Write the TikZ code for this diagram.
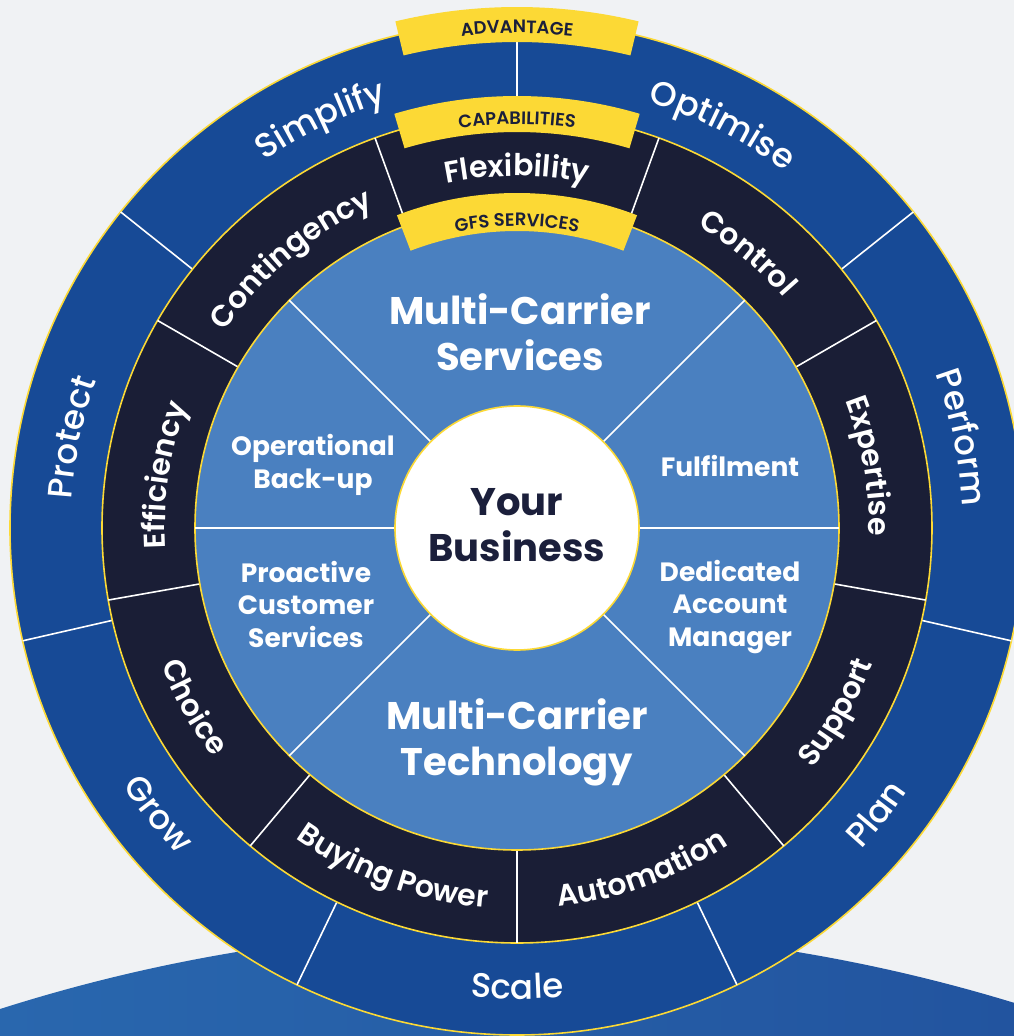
\documentclass[tikz,border=0pt]{standalone}
\usepackage{fontspec}
\setmainfont{Poppins}
\newfontfamily\popmed{Poppins Medium}
\newfontfamily\popsemi{Poppins SemiBold}
\newfontfamily\popbold{Poppins Bold}
\usetikzlibrary{decorations.text}
\definecolor{bgc}{HTML}{F0F2F4}
\definecolor{outerblue}{HTML}{174A96}
\definecolor{navyring}{HTML}{1A1E36}
\definecolor{midblue}{HTML}{4A80C0}
\definecolor{blobL}{HTML}{2967AE}
\definecolor{blobR}{HTML}{22549F}
\definecolor{ylw}{HTML}{FCD935}
\definecolor{txtnavy}{HTML}{1B1F3B}
\newcommand\cwtext[4]{%
  \path[decorate,decoration={text along path,text align=center,text={|#3|#4}}]
    (#1+40:#2pt) arc[start angle=#1+40,end angle=#1-40,radius=#2pt];}
\newcommand\ccwtext[4]{%
  \path[decorate,decoration={text along path,text align=center,text={|#3|#4}}]
    (#1-40:#2pt) arc[start angle=#1-40,end angle=#1+40,radius=#2pt];}
\newcommand\tabband[3]{%
  \fill[ylw] (90+#3:#2pt) arc[start angle=90+#3,end angle=90-#3,radius=#2pt]
    -- (90-#3:#1pt) arc[start angle=90-#3,end angle=90+#3,radius=#1pt] -- cycle;}
\newcommand\fouter{\popmed\fontsize{34pt}{34pt}\selectfont\color{white}}
\newcommand\fnavy{\popsemi\fontsize{30pt}{30pt}\selectfont\color{white}}
\newcommand\ftab{\popsemi\fontsize{18pt}{18pt}\selectfont\color{txtnavy}}
\tikzset{
  divider/.style={white,line width=1.6pt},
  ringedge/.style={draw=ylw,line width=1.6pt},
  bigtxt/.style={text=white,align=center,inner sep=0pt,font=\popbold\fontsize{38.5pt}{46pt}\selectfont},
  smalltxt/.style={text=white,align=center,inner sep=0pt,font=\popbold\fontsize{26.5pt}{32.5pt}\selectfont},
  centertxt/.style={text=txtnavy,align=center,inner sep=0pt,font=\popbold\fontsize{38.5pt}{46pt}\selectfont}
}
\begin{document}
\begin{tikzpicture}[x=1pt,y=1pt]
\useasboundingbox (-517,-508) rectangle (497,528);
\begin{scope}
\clip (-517,-508) rectangle (497,528);
\fill[bgc] (-517,-508) rectangle (497,528);
% bottom blob
\begin{scope}
\clip (0,-2101) circle[radius=1700pt];
\shade[left color=blobL,right color=blobR] (-517,-508) rectangle (497,-380);
\end{scope}
% outer ring
\fill[outerblue,ringedge] (0,0) circle[radius=507pt];
\foreach \a in {90,38.5714,-12.8571,-64.2857,-115.7143,-167.1429,141.4286}
  \draw[divider] (\a:415pt) -- (\a:507pt);
% navy ring
\fill[navyring,ringedge] (0,0) circle[radius=415pt];
\foreach \a in {110,70,30,-10,-50,-90,-130,-170,150}
  \draw[divider] (\a:322pt) -- (\a:415pt);
% medium ring
\fill[midblue,ringedge] (0,0) circle[radius=322pt];
\foreach \a in {0,45,135,180,225,315}
  \draw[divider] (\a:122pt) -- (\a:322pt);
% centre
\fill[white,ringedge] (0,0) circle[radius=122pt];
% tabs
\tabband{486}{521}{13.5}
\tabband{396}{432}{16.5}
\tabband{297}{335}{21}
\cwtext{90}{495}{\ftab}{ADVANTAGE}
\cwtext{90}{404}{\ftab}{CAPABILITIES}
\cwtext{90}{302}{\ftab}{GFS SERVICES}
% outer texts
\cwtext{115.7143}{446}{\fouter}{Simplify}
\cwtext{63}{446}{\fouter}{Optimise}
\cwtext{11.5}{446}{\fouter}{Perform}
\cwtext{168.5}{446}{\fouter}{Protect}
\ccwtext{-38.5714}{471}{\fouter}{Plan}
\ccwtext{-90}{471}{\fouter}{Scale}
\ccwtext{-141.4286}{471}{\fouter}{Grow}
% navy texts
\cwtext{90}{352}{\fnavy}{Flexibility}
\cwtext{50}{352}{\fnavy}{Control}
\cwtext{10}{352}{\fnavy}{Expertise}
\cwtext{171.5}{352}{\fnavy}{Efficiency}
\cwtext{130}{352}{\fnavy}{Contingency}
\ccwtext{-30}{381}{\fnavy}{Support}
\ccwtext{-70}{381}{\fnavy}{Automation}
\ccwtext{-110}{381}{\fnavy}{Buying Power}
\ccwtext{-151}{381}{\fnavy}{Choice}
% inner texts
\node[bigtxt] (ms) at (3,196) {Multi-Carrier\\Services};
\node[bigtxt] (mt) at (0,-214) {Multi-Carrier\\Technology};
\node[smalltxt] (ob) at (-204,63) {Operational\\Back-up};
\node[smalltxt] (fu) at (213,62) {Fulfilment};
\node[smalltxt] (pc) at (-211,-76) {Proactive\\Customer\\Services};
\node[smalltxt] (da) at (213,-79) {Dedicated\\Account\\Manager};
\node[centertxt] (yb) at (0,3) {Your\\Business};
\end{scope}
\end{tikzpicture}
\end{document}
